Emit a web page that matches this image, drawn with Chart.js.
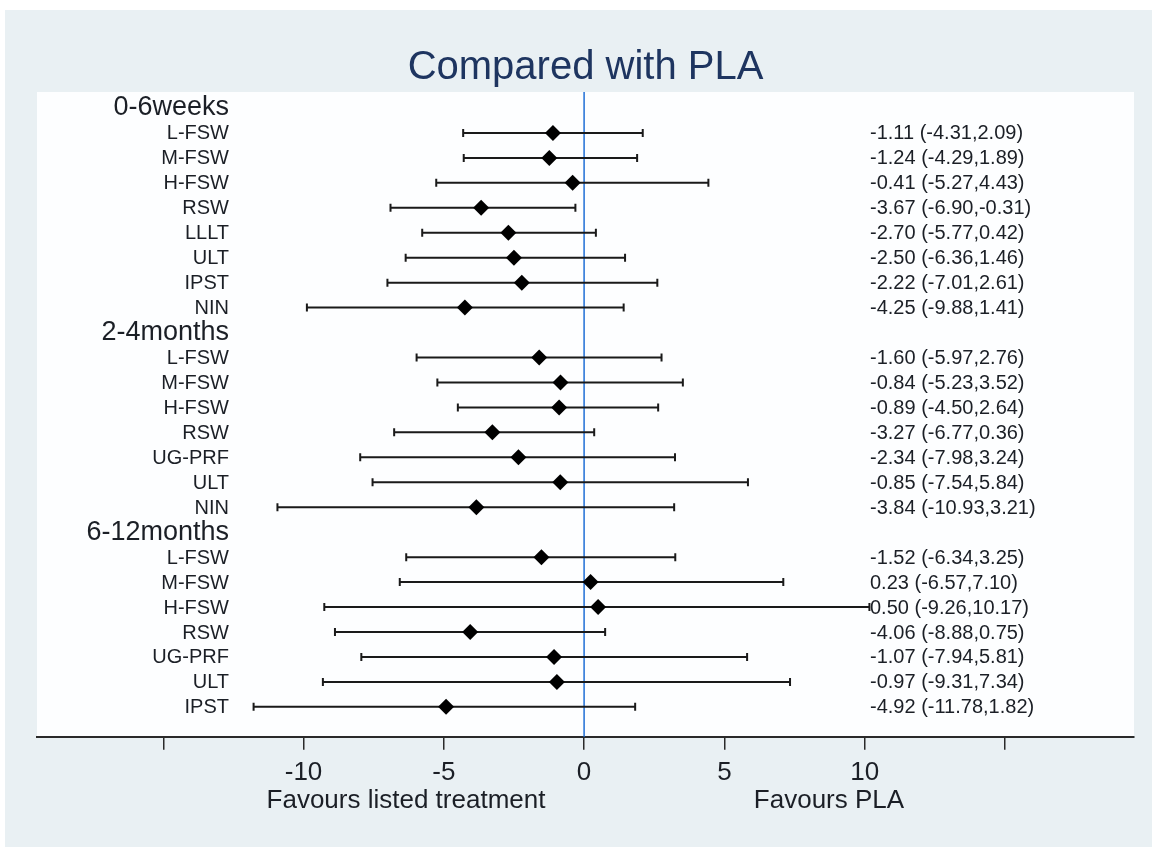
<!DOCTYPE html>
<html>
<head>
<meta charset="utf-8">
<title>Compared with PLA</title>
<script src="https://cdn.jsdelivr.net/npm/chart.js@4.4.1/dist/chart.umd.min.js"></script>
<style>
    html, body { margin: 0; padding: 0; background: #ffffff; }
    #wrap { width: 1152px; height: 847px; position: relative; }
</style>
</head>
<body>
<div id="wrap"><canvas id="forestChart"></canvas></div>
<script>
// Datos del gráfico
const groupNames = ['0-6weeks', '2-4months', '6-12months'];
const groupSizes = [8, 7, 7];
const treatments = [
    'L-FSW', 'M-FSW', 'H-FSW', 'RSW', 'LLLT', 'ULT', 'IPST', 'NIN',
    'L-FSW', 'M-FSW', 'H-FSW', 'RSW', 'UG-PRF', 'ULT', 'NIN',
    'L-FSW', 'M-FSW', 'H-FSW', 'RSW', 'UG-PRF', 'ULT', 'IPST'
];
const estimates = [
    -1.11, -1.24, -0.41, -3.67, -2.70, -2.50, -2.22, -4.25,
    -1.60, -0.84, -0.89, -3.27, -2.34, -0.85, -3.84,
    -1.52, 0.23, 0.50, -4.06, -1.07, -0.97, -4.92
];
const lowerCI = [
    -4.31, -4.29, -5.27, -6.90, -5.77, -6.36, -7.01, -9.88,
    -5.97, -5.23, -4.50, -6.77, -7.98, -7.54, -10.93,
    -6.34, -6.57, -9.26, -8.88, -7.94, -9.31, -11.78
];
const upperCI = [
    2.09, 1.89, 4.43, -0.31, 0.42, 1.46, 2.61, 1.41,
    2.76, 3.52, 2.64, 0.36, 3.24, 5.84, 3.21,
    3.25, 7.10, 10.17, 0.75, 5.81, 7.34, 1.82
];
const xTicks = [-15, -10, -5, 0, 5, 10, 15];
const xTickLabels = ['', '-10', '-5', '0', '5', '10', ''];
const sideLabels = ['Favours listed treatment', 'Favours PLA'];

// Colores
const colors = {
    outer: '#e9f0f3',
    plot: '#fdfeff',
    title: '#1e3560',
    text: '#1b1f26',
    marker: '#000000',
    whisker: '#1a1a1a',
    zero: '#1f6fd6',
    axis: '#2a2a2a'
};
const FONT = "'Liberation Sans', Arial, sans-serif";

// Posición vertical (fila) de cada cabecera y cada tratamiento
const headerSlots = [];
const rowSlots = [];
(function buildSlots() {
    let slot = 0;
    groupSizes.forEach(n => {
        headerSlots.push(slot++);
        for (let i = 0; i < n; i++) rowSlots.push(slot++);
    });
})();

// Formato "est (lo,hi)"
function ciText(i) {
    return estimates[i].toFixed(2) + ' (' + lowerCI[i].toFixed(2) + ',' + upperCI[i].toFixed(2) + ')';
}

// Fondo gris y área blanca del gráfico
const backgroundPlugin = {
    id: 'background',
    beforeDraw(chart) {
        const { ctx, chartArea } = chart;
        ctx.save();
        ctx.fillStyle = colors.outer;
        ctx.fillRect(5, 10, chart.width - 5, chart.height - 10);
        ctx.fillStyle = colors.plot;
        ctx.fillRect(chartArea.left, chartArea.top,
            chartArea.right - chartArea.left, chartArea.bottom - chartArea.top);
        ctx.restore();
    }
};

// Línea de cero, intervalos de confianza y textos
const forestPlugin = {
    id: 'forest',
    beforeDatasetsDraw(chart) {
        const { ctx, chartArea, scales } = chart;
        const x = scales.x, y = scales.y;
        ctx.save();

        // Línea vertical en 0
        const x0 = x.getPixelForValue(0);
        ctx.strokeStyle = colors.zero;
        ctx.lineWidth = 1.5;
        ctx.beginPath();
        ctx.moveTo(x0, chartArea.top);
        ctx.lineTo(x0, chartArea.bottom);
        ctx.stroke();

        // Intervalos con topes
        ctx.strokeStyle = colors.whisker;
        ctx.lineWidth = 2;
        estimates.forEach((_, i) => {
            const py = y.getPixelForValue(rowSlots[i]);
            const xl = x.getPixelForValue(lowerCI[i]);
            const xh = x.getPixelForValue(upperCI[i]);
            ctx.beginPath();
            ctx.moveTo(xl, py);
            ctx.lineTo(xh, py);
            ctx.moveTo(xl, py - 4);
            ctx.lineTo(xl, py + 4);
            ctx.moveTo(xh, py - 4);
            ctx.lineTo(xh, py + 4);
            ctx.stroke();
        });
        ctx.restore();
    },
    afterDraw(chart) {
        const { ctx, scales } = chart;
        const y = scales.y;
        ctx.save();
        ctx.fillStyle = colors.text;
        ctx.textBaseline = 'middle';

        // Cabeceras de grupo
        ctx.textAlign = 'right';
        ctx.font = '27px ' + FONT;
        groupNames.forEach((g, k) => {
            ctx.fillText(g, 229, y.getPixelForValue(headerSlots[k]));
        });

        // Nombres de tratamientos
        ctx.font = '20px ' + FONT;
        treatments.forEach((t, i) => {
            ctx.fillText(t, 229, y.getPixelForValue(rowSlots[i]) + 1);
        });

        // Estimaciones e intervalos a la derecha
        ctx.textAlign = 'left';
        treatments.forEach((_, i) => {
            ctx.fillText(ciText(i), 870, y.getPixelForValue(rowSlots[i]) + 1);
        });

        // Etiquetas bajo el eje
        ctx.textAlign = 'center';
        ctx.font = '26px ' + FONT;
        ctx.fillText(sideLabels[0], 406, 801);
        ctx.fillText(sideLabels[1], 829, 801);
        ctx.restore();
    }
};

function createForestChart() {
    const ctx = document.getElementById('forestChart').getContext('2d');
    return new Chart(ctx, {
        type: 'scatter',
        data: {
            datasets: [{
                data: estimates.map((v, i) => ({ x: v, y: rowSlots[i] })),
                pointStyle: 'rectRot',
                pointRadius: 8,
                backgroundColor: colors.marker,
                borderColor: colors.marker,
                borderWidth: 0
            }]
        },
        options: {
            responsive: true,
            maintainAspectRatio: false,
            animation: false,
            layout: {
                padding: { left: 37, right: 18, top: 0, bottom: 52 }
            },
            plugins: {
                legend: { display: false },
                tooltip: { enabled: false },
                title: {
                    display: true,
                    text: 'Compared with PLA',
                    color: colors.title,
                    font: { family: FONT, size: 40, weight: 'normal' },
                    padding: { top: 44, bottom: 0 }
                }
            },
            scales: {
                x: {
                    type: 'linear',
                    position: 'bottom',
                    min: -19.5,
                    max: 19.6,
                    afterBuildTicks: axis => {
                        axis.ticks = xTicks.map(v => ({ value: v }));
                    },
                    grid: {
                        drawOnChartArea: false,
                        drawTicks: true,
                        tickLength: 13,
                        color: colors.axis,
                        lineWidth: 1.5
                    },
                    border: { display: true, color: colors.axis, width: 2 },
                    ticks: {
                        autoSkip: false,
                        maxRotation: 0,
                        padding: 7,
                        color: colors.text,
                        font: { family: FONT, size: 26 },
                        callback: (value, index) => xTickLabels[index]
                    }
                },
                y: {
                    type: 'linear',
                    display: false,
                    reverse: true,
                    min: -0.64,
                    max: 25.2
                }
            }
        },
        plugins: [backgroundPlugin, forestPlugin]
    });
}

document.addEventListener('DOMContentLoaded', function() {
    createForestChart();
});
</script>
</body>
</html>
